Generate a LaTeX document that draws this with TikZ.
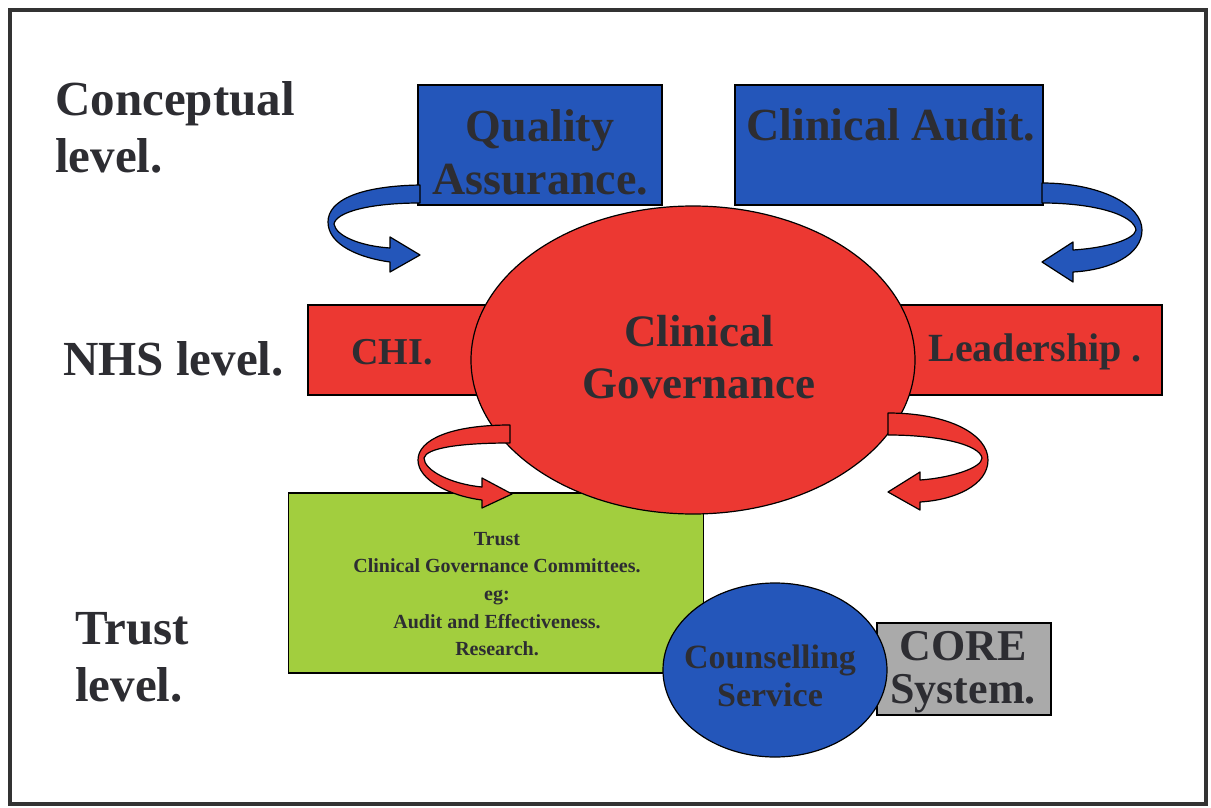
\documentclass[tikz,border=0pt]{standalone}
\usepackage{fontspec}
\setmainfont{Liberation Serif}
\usetikzlibrary{shapes.geometric}

\definecolor{cgblue}{RGB}{36,86,186}
\definecolor{cgred}{RGB}{236,56,50}
\definecolor{cggreen}{RGB}{162,206,62}
\definecolor{cggray}{RGB}{170,170,170}
\definecolor{cgtext}{RGB}{45,45,50}

\begin{document}
\begin{tikzpicture}[x=1pt, y=-1pt,
  lvltext/.style={font=\fontsize{49}{57}\selectfont\bfseries, text=cgtext, align=left, anchor=west, inner sep=0},
  boxtext/.style={text=cgtext, align=center, inner sep=0},
  cgbox/.style={draw=black, line width=1.2pt, inner sep=0},
  band/.style={draw=black, line width=1.2pt, line join=round}]
\useasboundingbox (0,0) rectangle (1211,808);
\draw[line width=4pt, black!80] (10,10) rectangle (1206,804);

% levels
\node[lvltext] (conc) at (55,127) {Conceptual\\level.};
\node[lvltext] (nhs) at (63,359) {NHS level.};
\node[lvltext] (trust) at (75,657) {Trust\\level.};

% trust
\node[cgbox, fill=cggreen, minimum width=415, minimum height=180] (tcg) at (496,583) {};
\node[boxtext, font=\fontsize{20}{27.7}\selectfont\bfseries] (tcgtext) at (497,594)
  {Trust\\Clinical Governance Committees.\\eg:\\Audit and Effectiveness.\\Research.};

% NHS
\node[cgbox, fill=cgred, minimum width=252, minimum height=90] (chi) at (434,350) {};
\node[cgbox, fill=cgred, minimum width=312, minimum height=90] (lead) at (1006,350) {};
\node[boxtext, font=\fontsize{38}{44}\selectfont\bfseries] (chitext) at (392,352) {CHI.};
\node[boxtext, font=\fontsize{40}{46}\selectfont\bfseries] (leadtext) at (1035,352) {Leadership .};

% conceptual
\node[cgbox, fill=cgblue, minimum width=244, minimum height=120] (qa) at (540,145) {};
\node[boxtext, font=\fontsize{46}{53}\selectfont\bfseries] (qatext) at (540,152) {Quality\\Assurance.};
\node[cgbox, fill=cgblue, minimum width=308, minimum height=120] (ca) at (889,145) {};
\node[boxtext, font=\fontsize{46}{53}\selectfont\bfseries] (catext) at (891,125) {Clinical Audit.};

\node[cgbox, ellipse, fill=cgred, minimum width=444, minimum height=308] (cg) at (693,360) {};
\node[boxtext, font=\fontsize{45}{52}\selectfont\bfseries] (cgtext) at (699,357) {Clinical\\Governance};

% curved arrows
\path[band, fill=cgblue] (420,185) .. controls (360,186) and (328,200) .. (328,222)
  .. controls (328,245) and (360,258) .. (390,262) -- (390,272) -- (420,255) -- (390,237) -- (390,248)
  .. controls (360,246) and (336,236) .. (334,224) .. controls (336,212) and (370,203) .. (420,203) -- cycle;
\path[band, fill=cgblue] (1042,183) .. controls (1100,183) and (1142,205) .. (1142,230)
  .. controls (1142,255) and (1110,270) .. (1073,272) -- (1073,282) -- (1042,262) -- (1073,242) -- (1073,250)
  .. controls (1105,248) and (1134,240) .. (1136,230) .. controls (1134,215) and (1095,203) .. (1042,203) -- cycle;
\path[band, fill=cgred] (510,425) .. controls (450,425) and (418,440) .. (418,460)
  .. controls (418,480) and (450,496) .. (482,500) -- (482,508) -- (512,494) -- (482,478) -- (482,487)
  .. controls (450,484) and (424,470) .. (424,458) .. controls (426,448) and (460,443) .. (510,443) -- cycle;
\path[band, fill=cgred] (888,413) .. controls (950,413) and (988,435) .. (988,460)
  .. controls (988,485) and (955,500) .. (920,502) -- (920,510) -- (888,492) -- (920,472) -- (920,480)
  .. controls (950,478) and (982,468) .. (982,458) .. controls (980,445) and (940,435) .. (888,435) -- cycle;

% counselling
\node[cgbox, fill=cggray, minimum width=174, minimum height=92] (core) at (964,669) {};
\node[boxtext, font=\fontsize{44}{43}\selectfont\bfseries] (coretext) at (963,672) {CORE\\System.};
\node[cgbox, ellipse, fill=cgblue, minimum width=224, minimum height=174] (cs) at (775,670) {};
\node[boxtext, font=\fontsize{34}{38}\selectfont\bfseries] (cstext) at (770,676) {Counselling\\Service};
\end{tikzpicture}
\end{document}
